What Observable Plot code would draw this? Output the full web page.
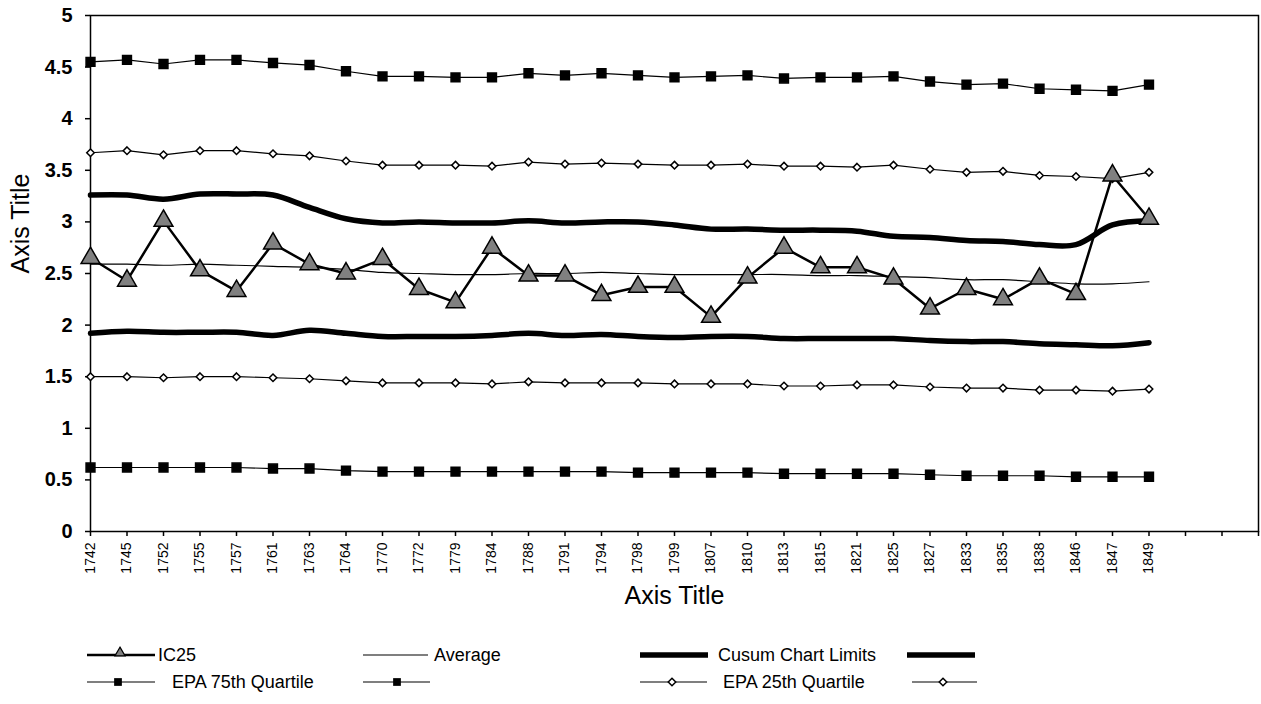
<!DOCTYPE html>
<html>
<head>
<meta charset="utf-8">
<script src="https://cdn.jsdelivr.net/npm/d3@7"></script>
<script src="https://cdn.jsdelivr.net/npm/@observablehq/plot@0.6"></script>
<style>
  html, body { margin: 0; padding: 0; background: #fff; }
  #wrap { position: relative; width: 1261px; height: 704px; font-family: "Liberation Sans", Arial, sans-serif; }
  #legend { position: absolute; left: 0; top: 630px; }
</style>
</head>
<body>
<div id="wrap"><div id="chart"></div><svg id="legend" width="1261" height="74"></svg></div>
<script>
const years = ["1742","1745","1752","1755","1757","1761","1763","1764","1770","1772","1779","1784","1788","1791","1794","1798","1799","1807","1810","1813","1815","1821","1825","1827","1833","1835","1838","1846","1847","1849"];
const emptySlots = ["_a","_b","_c"];
const ic25 = [2.65,2.43,3.01,2.53,2.33,2.79,2.59,2.50,2.64,2.35,2.22,2.75,2.48,2.48,2.29,2.37,2.37,2.08,2.46,2.75,2.56,2.56,2.45,2.16,2.35,2.25,2.45,2.30,3.45,3.03];
const average = [2.59,2.59,2.58,2.59,2.58,2.57,2.56,2.54,2.51,2.50,2.49,2.49,2.50,2.50,2.51,2.50,2.49,2.49,2.49,2.49,2.48,2.48,2.47,2.46,2.44,2.44,2.42,2.40,2.40,2.42];
const cusumUpper = [3.26,3.26,3.22,3.27,3.27,3.26,3.14,3.03,2.99,3.00,2.99,2.99,3.01,2.99,3.00,3.00,2.97,2.93,2.93,2.92,2.92,2.91,2.86,2.85,2.82,2.81,2.78,2.78,2.97,3.01];
const cusumLower = [1.92,1.94,1.93,1.93,1.93,1.90,1.95,1.92,1.89,1.89,1.89,1.90,1.92,1.90,1.91,1.89,1.88,1.89,1.89,1.87,1.87,1.87,1.87,1.85,1.84,1.84,1.82,1.81,1.80,1.83];
const epa75Upper = [4.55,4.57,4.53,4.57,4.57,4.54,4.52,4.46,4.41,4.41,4.40,4.40,4.44,4.42,4.44,4.42,4.40,4.41,4.42,4.39,4.40,4.40,4.41,4.36,4.33,4.34,4.29,4.28,4.27,4.33];
const epa75Lower = [0.62,0.62,0.62,0.62,0.62,0.61,0.61,0.59,0.58,0.58,0.58,0.58,0.58,0.58,0.58,0.57,0.57,0.57,0.57,0.56,0.56,0.56,0.56,0.55,0.54,0.54,0.54,0.53,0.53,0.53];
const epa25Upper = [3.67,3.69,3.65,3.69,3.69,3.66,3.64,3.59,3.55,3.55,3.55,3.54,3.58,3.56,3.57,3.56,3.55,3.55,3.56,3.54,3.54,3.53,3.55,3.51,3.48,3.49,3.45,3.44,3.42,3.48];
const epa25Lower = [1.50,1.50,1.49,1.50,1.50,1.49,1.48,1.46,1.44,1.44,1.44,1.43,1.45,1.44,1.44,1.44,1.43,1.43,1.43,1.41,1.41,1.42,1.42,1.40,1.39,1.39,1.37,1.37,1.36,1.38];
const yTicks = [0,0.5,1,1.5,2,2.5,3,3.5,4,4.5,5];

const rows = vals => years.map((year, i) => ({year, value: vals[i]}));

const quartileLine = vals => Plot.line(rows(vals), {x: "year", y: "value", stroke: "black", strokeWidth: 1.2});

const chart = Plot.plot({
  width: 1261,
  height: 640,
  marginLeft: 90,
  marginRight: 3,
  marginTop: 15,
  marginBottom: 109,
  style: {fontFamily: "'Liberation Sans', Arial, sans-serif", color: "black", background: "white"},
  x: {type: "point", domain: [...years, ...emptySlots], padding: 0, round: false, label: null},
  y: {domain: [0, 5], label: null},
  marks: [
    Plot.frame({stroke: "black", strokeWidth: 1.5}),
    Plot.axisY({ticks: yTicks, tickFormat: d => String(d), tickSize: 5, tickPadding: 13, fontSize: 20, fontWeight: "bold", label: null, strokeWidth: 1.5}),
    Plot.axisX({tickRotate: -90, tickSize: 5, tickPadding: 6, fontSize: 14, tickFormat: d => d.startsWith("_") ? "" : d, label: null, strokeWidth: 1.5}),
    Plot.text(["Axis Title"], {text: d => d, frameAnchor: "bottom", dy: 72, fontSize: 25}),
    Plot.text(["Axis Title"], {text: d => d, frameAnchor: "left", dx: -70, rotate: -90, fontSize: 25}),
    // EPA 75th quartile (squares)
    quartileLine(epa75Upper),
    quartileLine(epa75Lower),
    Plot.dot(rows(epa75Upper), {x: "year", y: "value", symbol: "square", r: 5, fill: "black", stroke: "black"}),
    Plot.dot(rows(epa75Lower), {x: "year", y: "value", symbol: "square", r: 5, fill: "black", stroke: "black"}),
    // EPA 25th quartile (diamonds)
    quartileLine(epa25Upper),
    quartileLine(epa25Lower),
    Plot.dot(rows(epa25Upper), {x: "year", y: "value", symbol: "diamond2", r: 3.4, fill: "white", stroke: "black", strokeWidth: 1.5}),
    Plot.dot(rows(epa25Lower), {x: "year", y: "value", symbol: "diamond2", r: 3.4, fill: "white", stroke: "black", strokeWidth: 1.5}),
    // Average
    Plot.line(rows(average), {x: "year", y: "value", stroke: "black", strokeWidth: 1.2, curve: "catmull-rom"}),
    // Cusum chart limits
    Plot.line(rows(cusumUpper), {x: "year", y: "value", stroke: "black", strokeWidth: 5.5, curve: "catmull-rom"}),
    Plot.line(rows(cusumLower), {x: "year", y: "value", stroke: "black", strokeWidth: 5.5, curve: "catmull-rom"}),
    // IC25
    Plot.line(rows(ic25), {x: "year", y: "value", stroke: "black", strokeWidth: 2.5}),
    Plot.dot(rows(ic25), {x: "year", y: "value", symbol: "triangle", r: 7, fill: "#808080", stroke: "black", strokeWidth: 1.5})
  ]
});
document.getElementById("chart").appendChild(chart);

// Legend
const legendItems = [
  {row: 0, x1: 87, x2: 155, sw: 2.5, sym: "triangle", sx: 120, label: "IC25", tx: 158},
  {row: 0, x1: 363, x2: 428, sw: 1.2, sym: null, label: "Average", tx: 434},
  {row: 0, x1: 640, x2: 708, sw: 5.5, sym: null, label: "Cusum Chart Limits", tx: 718},
  {row: 0, x1: 907, x2: 975, sw: 5.5, sym: null, label: null},
  {row: 1, x1: 87, x2: 155, sw: 1.2, sym: "square", sx: 118, label: "EPA 75th Quartile", tx: 172},
  {row: 1, x1: 363, x2: 430, sw: 1.2, sym: "square", sx: 397, label: null},
  {row: 1, x1: 640, x2: 707, sw: 1.2, sym: "diamond", sx: 672, label: "EPA 25th Quartile", tx: 723},
  {row: 1, x1: 912, x2: 977, sw: 1.2, sym: "diamond", sx: 943, label: null}
];
const rowY = [25, 52];
const lg = d3.select("#legend");
for (const it of legendItems) {
  const y = rowY[it.row];
  lg.append("line").attr("x1", it.x1).attr("x2", it.x2).attr("y1", y).attr("y2", y)
    .attr("stroke", "black").attr("stroke-width", it.sw);
  if (it.sym === "triangle") {
    lg.append("path").attr("d", d3.symbol(d3.symbolTriangle, 45)()).attr("transform", `translate(${it.sx},${y - 2})`)
      .attr("fill", "#808080").attr("stroke", "black").attr("stroke-width", 1.2);
  } else if (it.sym === "square") {
    lg.append("path").attr("d", d3.symbol(d3.symbolSquare, 60)()).attr("transform", `translate(${it.sx},${y})`)
      .attr("fill", "black");
  } else if (it.sym === "diamond") {
    lg.append("path").attr("d", d3.symbol(d3.symbolDiamond2, 36)()).attr("transform", `translate(${it.sx},${y})`)
      .attr("fill", "white").attr("stroke", "black").attr("stroke-width", 1.5);
  }
  if (it.label) {
    lg.append("text").attr("x", it.tx).attr("y", y).attr("dy", "0.35em")
      .attr("font-family", "'Liberation Sans', Arial, sans-serif").attr("font-size", 18).text(it.label);
  }
}
</script>
</body>
</html>
